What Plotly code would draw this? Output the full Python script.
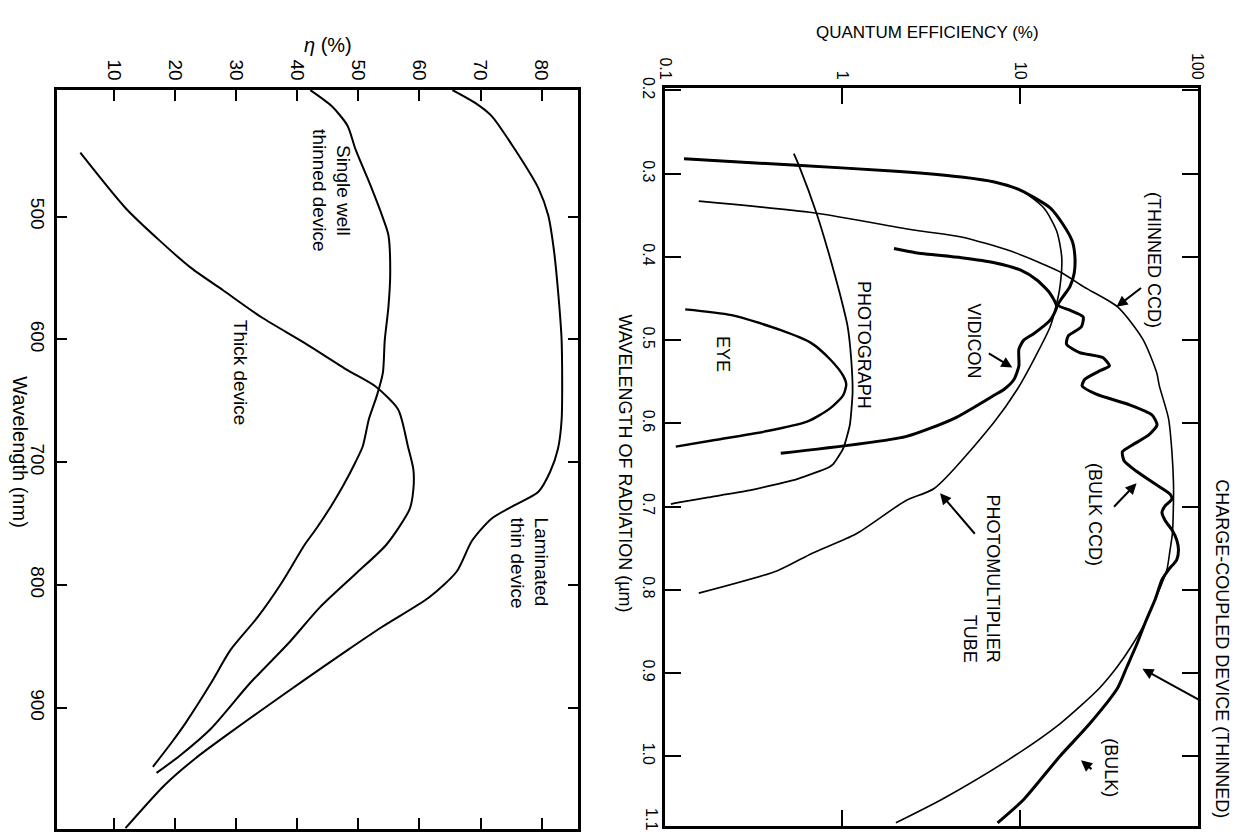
import plotly.graph_objects as go

W, H = 1245, 834
FONT = "Liberation Sans, Arial, Helvetica, sans-serif"

# ---------------- Left panel: quantum efficiency (%) vs wavelength (nm) ----------------
q_ticks = [10, 20, 30, 40, 50, 60, 70, 80]
nm_ticks = [500, 600, 700, 800, 900]

single_well_nm = [397, 410, 426, 445, 475, 501, 515, 547, 574, 601, 627, 646, 665, 687, 700,
                  719, 735, 754, 767, 799, 826, 853, 880, 912, 928, 948]
single_well_q = [42.1, 45.6, 48.2, 49.5, 52.0, 54.0, 54.9, 55.2, 54.9, 54.3, 54.0, 53.0, 51.7, 50.7, 49.5,
                 47.5, 45.6, 43.1, 41.2, 37.3, 33.5, 29.0, 25.8, 21.7, 19.4, 16.3]

thick_nm = [448, 493, 520, 542, 560, 582, 603, 625, 638, 657, 687, 706, 722, 738, 767, 791,
            818, 847, 880, 917, 939, 953]
thick_q = [4.4, 11.8, 17.5, 22.6, 27.8, 34.1, 41.2, 48.2, 52.7, 56.5, 58.1, 59.0, 59.0, 58.4, 54.6, 49.5,
           43.7, 38.6, 32.2, 25.8, 20.7, 16.9]

laminated_nm = [397, 408, 418, 445, 477, 499, 526, 560, 601, 665, 689, 708, 724, 735, 746, 764,
                789, 810, 834, 853, 877, 904, 920, 941, 963, 998]
laminated_q = [65.4, 69.3, 71.8, 75.6, 79.5, 81.1, 82.0, 82.7, 83.3, 83.3, 82.7, 81.4, 79.5, 75.6, 71.8, 68.6,
               66.1, 61.6, 53.9, 48.2, 41.2, 33.5, 29.0, 23.3, 18.2, 11.8]

# ---------------- Right panel: quantum efficiency (%, log) vs wavelength (um) ----------------
qe_ticks = [0.1, 1, 10, 100]
qe_ticktext = ["0.1", "1", "10", "100"]
um_ticks = [0.2, 0.3, 0.4, 0.5, 0.6, 0.7, 0.8, 0.9, 1.0]
um_ticktext = ["0.2", "0.3", "0.4", "0.5", "0.6", "0.7", "0.8", "0.9", "1.0"]

bulk_ccd_um = [0.282, 0.290, 0.297, 0.304, 0.310, 0.320, 0.341, 0.361, 0.381, 0.400, 0.420, 0.436,
               0.458, 0.464, 0.472, 0.484, 0.495, 0.505, 0.515, 0.521, 0.531, 0.537, 0.547, 0.555,
               0.565, 0.578, 0.590, 0.602, 0.614, 0.626, 0.634, 0.645, 0.657, 0.673, 0.685, 0.691,
               0.699, 0.707, 0.717, 0.728, 0.740, 0.752, 0.764, 0.776, 0.788, 0.811, 0.839, 0.867,
               0.894, 0.918, 0.961, 1.000, 1.052, 1.080]
bulk_ccd_qe = [0.128, 0.555, 2.0, 4.68, 7.18, 10.1, 14.8, 17.5, 19.7, 20.4, 20.2, 19.1,
               16.4, 19.1, 22.7, 22.2, 18.7, 18.3, 21.7, 29.3, 31.9, 28.1, 23.2, 22.4,
               26.9, 41.7, 55.5, 59.2, 53.2, 43.0, 37.8, 38.6, 44.9, 57.9, 70.1, 71.8,
               65.9, 63.1, 65.9, 71.8, 76.4, 78.2, 76.4, 68.7, 63.1, 57.9, 50.9, 45.2,
               39.8, 35.5, 24.7, 16.8, 10.5, 7.48]

thinned_ccd_um = [0.333, 0.347, 0.368, 0.376, 0.393, 0.409, 0.419, 0.436, 0.460, 0.499, 0.539, 0.555,
                  0.594, 0.634, 0.673, 0.691, 0.732, 0.752, 0.776, 0.792, 0.815, 0.839, 0.867, 0.892,
                  0.918, 0.961, 1.005, 1.052, 1.080]
thinned_ccd_qe = [0.155, 0.687, 2.58, 4.68, 8.87, 13.6, 17.2, 22.9, 35.5, 49.3, 58.9, 61.0,
                  68.7, 71.8, 73.3, 73.3, 72.3, 70.1, 67.3, 63.1, 56.8, 50.9, 42.7, 35.5,
                  28.1, 16.8, 8.51, 3.62, 2.0]

pmt_um = [0.282, 0.290, 0.297, 0.304, 0.310, 0.320, 0.341, 0.369, 0.401, 0.436, 0.456, 0.484,
          0.523, 0.559, 0.598, 0.678, 0.693, 0.733, 0.756, 0.777, 0.804]
pmt_qe = [0.128, 0.555, 2.0, 4.68, 7.18, 10.1, 13.6, 16.1, 17.2, 16.8, 16.1, 14.8,
          12.0, 9.66, 7.18, 3.30, 2.27, 1.19, 0.676, 0.430, 0.155]

vidicon_um = [0.390, 0.395, 0.401, 0.407, 0.416, 0.428, 0.444, 0.460, 0.476, 0.492, 0.500, 0.511,
              0.531, 0.547, 0.559, 0.566, 0.594, 0.616, 0.636]
vidicon_qe = [1.95, 2.58, 4.68, 7.18, 10.1, 12.5, 14.8, 16.1, 14.8, 12.0, 10.5, 9.86,
              9.86, 9.27, 8.15, 7.18, 4.27, 2.27, 0.449]

photo_um = [0.276, 0.290, 0.349, 0.401, 0.444, 0.484, 0.523, 0.563, 0.602, 0.630, 0.649, 0.653,
            0.667, 0.681, 0.689, 0.695, 0.697]
photo_qe = [0.532, 0.568, 0.718, 0.851, 0.966, 1.07, 1.12, 1.14, 1.10, 1.01, 0.887, 0.834,
            0.555, 0.293, 0.175, 0.120, 0.108]

eye_um = [0.463, 0.470, 0.488, 0.503, 0.523, 0.543, 0.553, 0.566, 0.582, 0.598, 0.610, 0.620, 0.628]
eye_qe = [0.130, 0.237, 0.449, 0.661, 0.851, 1.01, 1.05, 1.01, 0.851, 0.631, 0.362, 0.191, 0.115]

fig = go.Figure()


def curve(x, y, ax, width, smoothing=0.7):
    xa, ya = ("x", "y") if ax == 1 else ("x2", "y2")
    fig.add_trace(go.Scatter(
        x=x, y=y, xaxis=xa, yaxis=ya, mode="lines",
        line=dict(color="black", width=width, shape="spline", smoothing=smoothing),
        hoverinfo="skip", showlegend=False))


curve(single_well_q, single_well_nm, 1, 2.0)
curve(thick_q, thick_nm, 1, 2.0)
curve(laminated_q, laminated_nm, 1, 2.0)

curve(pmt_qe, pmt_um, 2, 1.6)
curve(thinned_ccd_qe, thinned_ccd_um, 2, 1.6)
curve(photo_qe, photo_um, 2, 1.8, 0.5)
curve(eye_qe, eye_um, 2, 2.4)
curve(vidicon_qe, vidicon_um, 2, 3.0, 0.6)
curve(bulk_ccd_qe, bulk_ccd_um, 2, 3.0, 0.6)

frame = dict(showline=True, linecolor="black", linewidth=2.5, mirror="ticks",
             ticks="inside", tickcolor="black", tickwidth=2, showgrid=False,
             zeroline=False, tickangle=90, color="black")

annotations = []


def label(text, x, y, ref, size, align="center"):
    xr, yr = ref
    annotations.append(dict(
        text=text, x=x, y=y, xref=xr, yref=yr, showarrow=False, textangle=90,
        xanchor="center", yanchor="middle", align=align,
        font=dict(family=FONT, size=size, color="black")))


def arrow(x, y, ax, ay):
    annotations.append(dict(
        text="", x=x, y=y, xref="x2", yref="y2", ax=ax, ay=ay, showarrow=True,
        arrowhead=2, arrowsize=1.1, arrowwidth=2, arrowcolor="black", standoff=0))


# left panel labels (x: %, y: nm)
label("Single well<br>thinned device", 45.6, 479, ("x", "y"), 19)
label("Thick device", 30.7, 627, ("x", "y"), 19)
label("Laminated<br>thin device", 78.0, 782, ("x", "y"), 19, align="left")

# right panel labels (x: log10 of %, y: um)
label("(THINNED CCD)", 1.756, 0.404, ("x2", "y2"), 18)
label("VIDICON", 0.744, 0.501, ("x2", "y2"), 18)
label("PHOTOGRAPH", 0.122, 0.506, ("x2", "y2"), 18)
label("EYE", -0.672, 0.517, ("x2", "y2"), 18)
label("(BULK CCD)", 1.422, 0.710, ("x2", "y2"), 18)
label("PHOTOMULTIPLIER<br>TUBE", 0.783, 0.787, ("x2", "y2"), 18, align="right")
label("(BULK)", 1.511, 1.014, ("x2", "y2"), 18)
# this one sits outside the right frame, so it is placed on the page
label("CHARGE-COUPLED DEVICE (THINNED)", 1230 / W, 1 - 646 / H, ("paper", "paper"), 18)

arrow(1.544, 0.460, 26, -20)     # thinned CCD
arrow(0.957, 0.533, -25, -15)    # vidicon
arrow(1.657, 0.672, -24, 25)     # bulk CCD
arrow(0.550, 0.684, 36, 42)      # photomultiplier
arrow(1.690, 0.895, 60, 33)      # CCD thinned (long wavelength)
arrow(1.344, 1.005, 12, 10)      # bulk

# axis titles
annotations.append(dict(text="QUANTUM EFFICIENCY (%)", x=932 / W, y=1 - 22 / H, xref="paper", yref="paper",
                        showarrow=False, xanchor="center", yanchor="middle",
                        font=dict(family=FONT, size=17, color="black")))
annotations.append(dict(text="WAVELENGTH OF RADIATION (µm)", x=626 / W, y=1 - 459 / H, xref="paper",
                        yref="paper", showarrow=False, textangle=90, xanchor="center", yanchor="middle",
                        font=dict(family=FONT, size=18, color="black")))
annotations.append(dict(text="<i>η</i> (%)", x=324 / W, y=1 - 34 / H, xref="paper", yref="paper",
                        showarrow=False, xanchor="center", yanchor="middle",
                        font=dict(family=FONT, size=20, color="black")))
annotations.append(dict(text="Wavelength (nm)", x=12 / W, y=1 - 447 / H, xref="paper", yref="paper",
                        showarrow=False, textangle=90, xanchor="center", yanchor="middle",
                        font=dict(family=FONT, size=20, color="black")))
# last wavelength label at the lower edge of the right frame
annotations.append(dict(text="1.1", x=653 / W, y=1 - 819 / H, xref="paper", yref="paper",
                        showarrow=False, textangle=90, xanchor="center", yanchor="middle",
                        font=dict(family=FONT, size=16, color="black")))

fig.update_layout(
    width=W, height=H, autosize=False,
    margin=dict(l=0, r=0, t=0, b=0, pad=0),
    paper_bgcolor="white", plot_bgcolor="white",
    font=dict(family=FONT, color="black"),
    showlegend=False,
    xaxis=dict(domain=[49.5 / W, 578 / W], range=[0.55, 86], side="top", anchor="y",
               tickvals=q_ticks, ticklen=11, tickfont=dict(size=19), **frame),
    yaxis=dict(domain=[1 - 829 / H, 1 - 80 / H], range=[998.7, 396.9], anchor="x",
               tickvals=nm_ticks, ticklen=10, tickfont=dict(size=19), **frame),
    xaxis2=dict(domain=[666 / W, 1206 / W], type="log", range=[-1.0005, 2.0005], side="top",
                anchor="y2", tickvals=qe_ticks, ticktext=qe_ticktext, ticklen=16,
                tickfont=dict(size=16), **frame),
    yaxis2=dict(domain=[1 - 826 / H, 1 - 78 / H], range=[1.084, 0.197], anchor="x2",
                tickvals=um_ticks, ticktext=um_ticktext, ticklen=16,
                tickfont=dict(size=16), **frame),
    annotations=annotations,
)

fig.write_html("out.html")
